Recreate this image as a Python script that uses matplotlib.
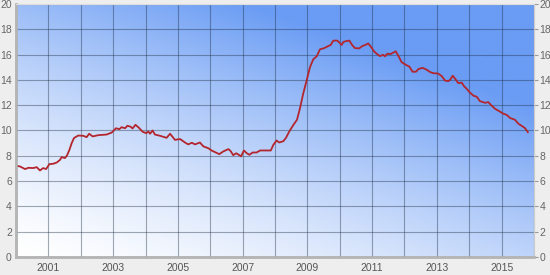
import numpy as np
import matplotlib
matplotlib.use("Agg")
import matplotlib.pyplot as plt
from matplotlib.colors import to_rgb

# decimal years and values
years = [
    2000.00, 2000.12, 2000.28, 2000.38, 2000.53, 2000.64, 2000.74, 2000.84, 2000.93,
    2001.03, 2001.15, 2001.26, 2001.36, 2001.41, 2001.51, 2001.57, 2001.65, 2001.72,
    2001.79, 2001.92, 2002.08, 2002.18, 2002.26, 2002.37, 2002.54, 2002.80, 2002.96,
    2003.09, 2003.19, 2003.26, 2003.37, 2003.44, 2003.54, 2003.60, 2003.69, 2003.81,
    2003.91, 2004.02, 2004.09, 2004.14, 2004.22, 2004.29, 2004.45, 2004.65, 2004.76,
    2004.91, 2005.07, 2005.22, 2005.32, 2005.43, 2005.53, 2005.68, 2005.79, 2005.94,
    2006.04, 2006.15, 2006.28, 2006.40, 2006.56, 2006.63, 2006.71, 2006.80, 2006.87,
    2006.95, 2007.04, 2007.13, 2007.21, 2007.31, 2007.43, 2007.54, 2007.69, 2007.87,
    2007.95, 2008.05, 2008.13, 2008.26, 2008.34, 2008.44, 2008.57, 2008.68, 2008.77,
    2008.87, 2008.98, 2009.08, 2009.18, 2009.29, 2009.39, 2009.51, 2009.65, 2009.72,
    2009.80, 2009.92, 2009.99, 2010.06, 2010.11, 2010.22, 2010.30, 2010.37, 2010.47,
    2010.60, 2010.71, 2010.78, 2010.88, 2010.97, 2011.06, 2011.15, 2011.24, 2011.34,
    2011.40, 2011.47, 2011.57, 2011.65, 2011.73, 2011.81, 2011.91, 2012.05, 2012.15,
    2012.25, 2012.36, 2012.43, 2012.56, 2012.69, 2012.79, 2012.89, 2013.04, 2013.15,
    2013.25, 2013.35, 2013.41, 2013.49, 2013.56, 2013.66, 2013.77, 2013.84, 2013.92,
    2014.02, 2014.13, 2014.23, 2014.33, 2014.49, 2014.59, 2014.69, 2014.80, 2014.93,
    2015.05, 2015.16, 2015.26, 2015.41, 2015.52, 2015.62, 2015.72, 2015.81,
]
values = [
    7.21, 7.16, 6.95, 7.05, 7.03, 7.10, 6.84, 7.03, 6.95,
    7.34, 7.37, 7.47, 7.68, 7.90, 7.82, 8.00, 8.47, 9.00,
    9.40, 9.60, 9.58, 9.47, 9.74, 9.53, 9.63, 9.68, 9.84,
    10.18, 10.10, 10.26, 10.18, 10.37, 10.30, 10.16, 10.45, 10.18,
    9.90, 9.79, 9.92, 9.74, 10.00, 9.68, 9.58, 9.42, 9.74,
    9.26, 9.32, 9.05, 8.90, 9.03, 8.90, 9.05, 8.74, 8.60,
    8.42, 8.29, 8.13, 8.34, 8.53, 8.37, 8.05, 8.20, 8.10,
    7.95, 8.42, 8.20, 8.08, 8.26, 8.26, 8.42, 8.42, 8.42,
    8.87, 9.21, 9.05, 9.16, 9.42, 9.92, 10.45, 10.85, 11.74,
    12.90, 13.98, 15.00, 15.62, 15.87, 16.42, 16.50, 16.68, 16.76,
    17.10, 17.11, 16.95, 16.76, 17.00, 17.08, 17.10, 16.80, 16.51,
    16.49, 16.69, 16.75, 16.88, 16.60, 16.25, 16.05, 15.88, 15.98,
    15.86, 16.07, 16.04, 16.15, 16.26, 15.91, 15.40, 15.18, 15.05,
    14.64, 14.65, 14.86, 14.95, 14.80, 14.62, 14.53, 14.50, 14.30,
    13.95, 13.90, 14.00, 14.33, 14.10, 13.75, 13.78, 13.50, 13.30,
    13.00, 12.75, 12.67, 12.32, 12.19, 12.24, 11.97, 11.71, 11.52,
    11.33, 11.23, 10.99, 10.85, 10.53, 10.37, 10.19, 9.87,
]
year_labels = ["2001", "2003", "2005", "2007", "2009", "2011", "2013", "2015"]
y_ticks = [0, 2, 4, 6, 8, 10, 12, 14, 16, 18, 20]

plt.rcParams['font.family'] = ['Liberation Sans', 'DejaVu Sans']

fig = plt.figure(figsize=(5.5, 2.75), dpi=100, facecolor='#eeeeee')
ax = fig.add_axes([0.0291, 0.0655, 0.9418, 0.92])

# diagonal gradient background, white bottom-left to blue top-right
nx, ny = 300, 150
gx, gy = np.meshgrid(np.linspace(0, 1, nx), np.linspace(0, 1, ny))
t = np.clip(0.55 * gx + 0.75 * gy, 0, 1) ** 1.4
c0 = np.array(to_rgb('#ffffff'))
c1 = np.array(to_rgb('#6a9cf4'))
img = c0[None, None, :] * (1 - t[..., None]) + c1[None, None, :] * t[..., None]
ax.imshow(img, extent=[0, 1, 0, 1], transform=ax.transAxes, origin='lower',
          aspect='auto', zorder=0, interpolation='bilinear')

ax.plot(years, values, color='#b3262d', lw=1.3, zorder=3)

ax.set_xlim(2000, 2016)
ax.set_ylim(0, 20)
# labels on odd years, grid on every year
ax.set_xticks([int(s) for s in year_labels])
ax.set_xticklabels(year_labels)
ax.set_xticks(range(2000, 2017), minor=True)
ax.set_yticks(y_ticks)
ax.grid(True, which='both', axis='x', color='#1a2a40', alpha=0.4, lw=0.8, zorder=1)
ax.grid(True, which='major', axis='y', color='#1a2a40', alpha=0.4, lw=0.8, zorder=1)
ax.set_axisbelow(False)

ax.tick_params(axis='x', which='both', length=0, pad=4, labelsize=7.5, labelcolor='#555555')
ax.tick_params(axis='y', which='major', length=0, pad=3, labelsize=7.5, labelcolor='#666666')

ax2 = ax.twinx()
ax2.set_ylim(0, 20)
ax2.set_yticks(y_ticks)
ax2.tick_params(axis='y', length=3, width=0.8, color='#999999', pad=1,
                labelsize=7.5, labelcolor='#666666')

for a in (ax, ax2):
    a.spines['left'].set_color('#b5b5b5')
    a.spines['left'].set_linewidth(1.8)
    a.spines['bottom'].set_color('#b5b5b5')
    a.spines['bottom'].set_linewidth(1.8)
    a.spines['top'].set_color('#dddddd')
    a.spines['top'].set_linewidth(0.8)
    a.spines['right'].set_color('#cccccc')
    a.spines['right'].set_linewidth(0.8)

fig.savefig('out.png', dpi=100, facecolor=fig.get_facecolor())
